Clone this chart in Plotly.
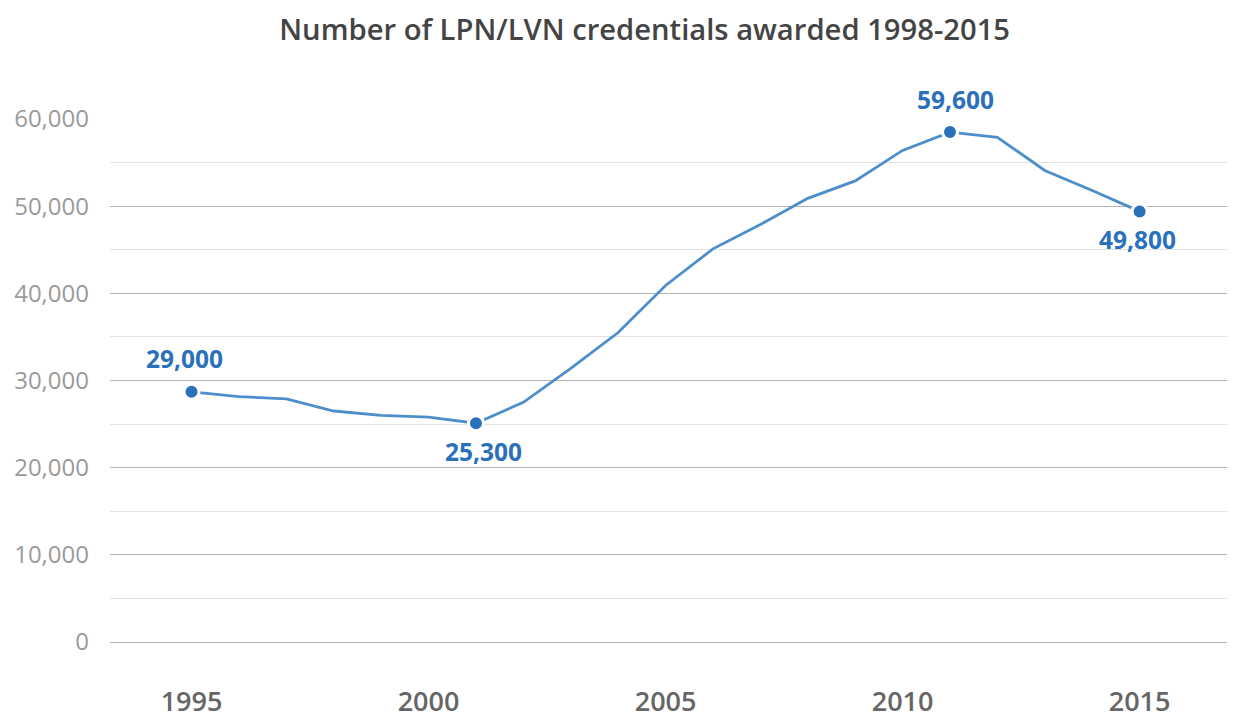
import plotly.graph_objects as go

years = list(range(1995, 2016))
credentials = [28700, 28150, 27900, 26500, 26000, 25800, 25100, 27500, 31400, 35500,
               40900, 45100, 47900, 50900, 52900, 56400, 58500, 57900, 54100, 51800, 49400]

highlight_years = [1995, 2001, 2011, 2015]
highlight_labels = ["29,000", "25,300", "59,600", "49,800"]
label_side = ["above", "below", "above", "below"]

y_ticks = [0, 10000, 20000, 30000, 40000, 50000, 60000]
y_ticktext = ["0", "10,000", "20,000", "30,000", "40,000", "50,000", "60,000"]
x_ticks = [1995, 2000, 2005, 2010, 2015]

line_color = "#4d8ecb"
point_color = "#2a70ba"

hl_values = [credentials[years.index(y)] for y in highlight_years]
label_xshift = [-7, 8, 5, -2]

fig = go.Figure()
fig.add_trace(go.Scatter(x=years, y=credentials, mode="lines",
                         line=dict(color=line_color, width=2.8), hoverinfo="skip"))
fig.add_trace(go.Scatter(x=highlight_years, y=hl_values, mode="markers",
                         marker=dict(color=point_color, size=15, line=dict(color="white", width=3)),
                         hoverinfo="skip"))

for x, y, t, s, dx in zip(highlight_years, hl_values, highlight_labels, label_side, label_xshift):
    fig.add_annotation(x=x, y=y, text=t, showarrow=False,
                       yshift=33 if s == "above" else -28, xshift=dx,
                       font=dict(family="Open Sans", size=24.5, color=point_color, weight=700))

fig.update_layout(
    width=1235, height=719,
    margin=dict(l=102, r=10, t=111, b=85),
    paper_bgcolor="white", plot_bgcolor="white",
    showlegend=False,
    title=dict(text="Number of LPN/LVN credentials awarded 1998-2015",
               x=0.5155, xanchor="center", y=0.970, yanchor="middle",
               font=dict(family="Open Sans", size=29.2, color="#444444", weight=600)),
    xaxis=dict(range=[1993.28, 2016.97], tickvals=x_ticks, showgrid=False, zeroline=False,
               showline=False, ticks="", ticklabelstandoff=41, automargin=False,
               tickfont=dict(family="Open Sans", size=27, color="#666666", weight=600)),
    yaxis=dict(range=[0, 60000], tickvals=y_ticks, ticktext=y_ticktext,
               showgrid=True, gridcolor="#b3b3b3", gridwidth=1,
               zeroline=True, zerolinecolor="#b3b3b3", zerolinewidth=1,
               showline=False, ticks="", ticklabelstandoff=20, automargin=False,
               tickfont=dict(family="Open Sans", size=24, color="#9a9a9a"),
               minor=dict(dtick=5000, showgrid=True, gridcolor="#e2e2e2", gridwidth=1)),
)

fig.write_html("out.html")
